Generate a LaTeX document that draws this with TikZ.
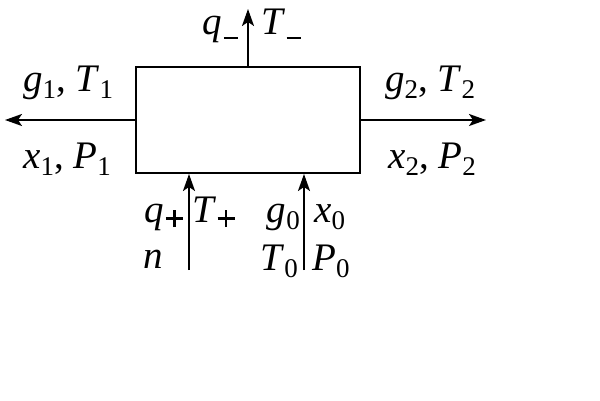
\documentclass[tikz,border=0pt]{standalone}
\usepackage{fontspec}
\setmainfont{Liberation Serif}
\usetikzlibrary{arrows.meta}
\newcommand{\sbs}[1]{\raisebox{-0.2em}{\fontsize{27}{27}\selectfont #1}}
\newcommand{\mns}{\hspace{1.5pt}\raisebox{-5pt}{\rule{14pt}{2.5pt}}}
\newcommand{\pls}{\hspace{1.5pt}\raisebox{-5pt}{\makebox[17pt][l]{\rule[7.25pt]{17pt}{2.5pt}\hspace{-9.75pt}\rule{2.5pt}{17pt}}}}
\newcommand{\vv}[1]{\textit{#1}}
\begin{document}
\begin{tikzpicture}[x=1pt,y=-1pt,
  lbl/.style={inner sep=0pt,font=\fontsize{39}{42}\selectfont},
  arr/.style={line width=2pt,-{Stealth[length=17pt,width=12pt,inset=4pt]}},
  boxst/.style={draw,line width=2pt,inner sep=0pt,minimum width=224pt,minimum height=106pt}]
\useasboundingbox (0,0) rectangle (600,400);
\node[boxst] (box) at (248,120) {};
\coordinate (lend) at (5,120);
\coordinate (rend) at (486,120);
\coordinate (tend) at (248,9);
\coordinate (b1) at (189,270);
\coordinate (b2) at (304,270);
\draw[arr] (box.west) -- (lend);
\draw[arr] (box.east) -- (rend);
\draw[arr] (box.north) -- (tend);
\draw[arr] (b1) -- (b1 |- box.south);
\draw[arr] (b2) -- (b2 |- box.south);
% top
\node[lbl,anchor=base east] (qm) at (238,34) {\vv{q}\mns};
\node[lbl,anchor=base west] (Tm) at (261,34) {\vv{T}\mns};
% left
\node[lbl,anchor=base west] (g1) at (23,91) {\vv{g}\sbs{1}, \vv{T}\sbs{1}};
\node[lbl,anchor=base west] (x1) at (23,168) {\vv{x}\sbs{1}, \vv{P}\sbs{1}};
% right
\node[lbl,anchor=base west] (g2) at (385,91) {\vv{g}\sbs{2}, \vv{T}\sbs{2}};
\node[lbl,anchor=base west] (x2) at (388,168) {\vv{x}\sbs{2}, \vv{P}\sbs{2}};
% bottom left
\node[lbl,anchor=base east] (qp) at (183,222) {\vv{q}\pls};
\node[lbl,anchor=base west] (Tp) at (192,222) {\vv{T}\pls};
\node[lbl,anchor=base west] (n) at (143,268) {\vv{n}};
% bottom right
\node[lbl,anchor=base east] (g0) at (300,222) {\vv{g}\sbs{0}};
\node[lbl,anchor=base west] (x0) at (314,222) {\vv{x}\sbs{0}};
\node[lbl,anchor=base east] (T0) at (298,270) {\vv{T}\sbs{0}};
\node[lbl,anchor=base west] (P0) at (312,270) {\vv{P}\sbs{0}};
\end{tikzpicture}
\end{document}
